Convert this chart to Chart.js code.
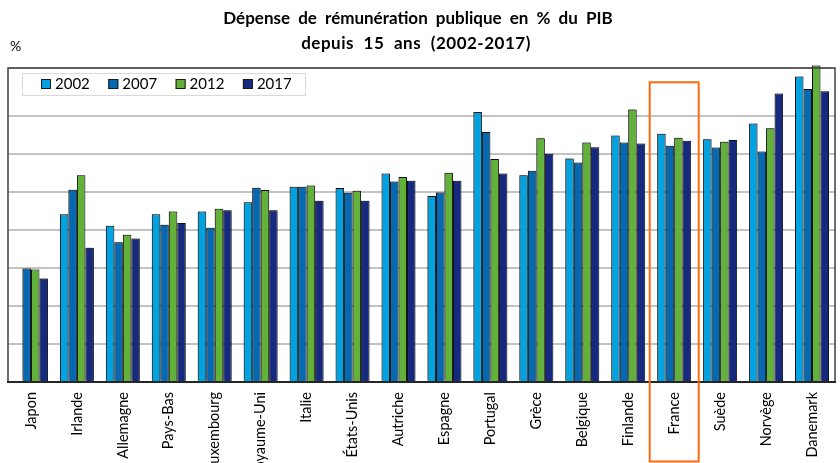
<!DOCTYPE html>
<html>
<head>
<meta charset="utf-8">
<script src="https://cdn.jsdelivr.net/npm/chart.js@4"></script>
<style>
  html, body { margin: 0; padding: 0; background: #fff; }
  #wrap { width: 840px; height: 463px; position: relative; }
</style>
</head>
<body>
<div id="wrap"><canvas id="c" width="840" height="463"></canvas></div>
<script>
const categories = ["Japon","Irlande","Allemagne","Pays-Bas","Luxembourg","Royaume-Uni","Italie","États-Unis","Autriche","Espagne","Portugal","Grèce","Belgique","Finlande","France","Suède","Norvège","Danemark"];
const seriesNames = ["2002","2007","2012","2017"];
const v2002 = [null, 8.82, 8.21, 8.82, 8.96, 9.44, 10.26, 10.19, 10.95, 9.77, 14.19, 10.86, 11.75, 12.95, 13.05, 12.75, 13.58, 16.05];
const v2007 = [5.96, 10.10, 7.35, 8.26, 8.10, 10.21, 10.26, 9.95, 10.53, 9.96, 13.14, 11.10, 11.53, 12.58, 12.42, 12.32, 12.11, 15.39];
const v2012 = [5.91, 10.86, 7.74, 8.96, 9.10, 10.09, 10.33, 10.05, 10.77, 11.00, 11.72, 12.81, 12.58, 14.32, 12.84, 12.63, 13.33, 16.63];
const v2017 = [5.44, 7.05, 7.54, 8.35, 9.02, 9.02, 9.53, 9.53, 10.58, 10.58, 10.95, 12.00, 12.33, 12.53, 12.68, 12.72, 15.16, 15.28];
const titleLines = ["Dépense de rémunération publique en % du PIB", "depuis 15 ans (2002-2017)"];
const unitLabel = "%";
const highlighted = "France";

const colors = ["#00A2E1", "#0569B2", "#62B13B", "#15297F"];
const seriesValues = [v2002, v2007, v2012, v2017];

const FONT = "Lato, 'Open Sans', sans-serif";

const decorPlugin = {
  id: 'decor',
  beforeDatasetsDraw(chart) {
    const ctx = chart.ctx;
    ctx.save();
    ctx.shadowColor = 'rgba(0,0,0,0.35)';
    ctx.shadowOffsetX = -1;
    ctx.shadowOffsetY = -1;
    ctx.shadowBlur = 1.5;
  },
  afterDatasetsDraw(chart) {
    chart.ctx.restore();
  },
  afterDraw(chart) {
    const ctx = chart.ctx;
    const a = chart.chartArea;
    ctx.save();
    // frame
    ctx.strokeStyle = '#404040';
    ctx.lineWidth = 1.5;
    ctx.beginPath();
    ctx.moveTo(a.left, a.bottom);
    ctx.lineTo(a.left, a.top);
    ctx.lineTo(a.right, a.top);
    ctx.lineTo(a.right, a.bottom);
    ctx.stroke();
    ctx.strokeStyle = '#262626';
    ctx.lineWidth = 2;
    ctx.beginPath();
    ctx.moveTo(a.left - 1, a.bottom);
    ctx.lineTo(a.right + 1, a.bottom);
    ctx.stroke();

    // title
    ctx.fillStyle = '#000';
    ctx.textAlign = 'center';
    ctx.textBaseline = 'middle';
    ctx.font = "bold 17px " + FONT;
    ctx.wordSpacing = '4px';
    ctx.fillText(titleLines[0], 418, 19);
    ctx.wordSpacing = '5px';
    ctx.letterSpacing = '0.5px';
    ctx.fillText(titleLines[1], 416, 44);
    ctx.wordSpacing = '0px';
    ctx.letterSpacing = '0px';
    // unit
    ctx.font = "14px " + FONT;
    ctx.textAlign = 'left';
    ctx.fillText(unitLabel, 10, 46);

    // legend box
    const lx = 22, ly = 73, lw = 283, lh = 22;
    ctx.fillStyle = '#fff';
    ctx.fillRect(lx, ly, lw, lh);
    ctx.strokeStyle = '#D9D9D9';
    ctx.lineWidth = 1;
    ctx.strokeRect(lx + 0.5, ly + 0.5, lw, lh);
    ctx.font = "15px " + FONT;
    ctx.textBaseline = 'middle';
    chart.data.datasets.forEach((ds, i) => {
      const sx = 41 + i * 67.3;
      ctx.fillStyle = ds.backgroundColor;
      ctx.fillRect(sx, 79, 10, 10);
      ctx.strokeStyle = '#1a1a1a';
      ctx.lineWidth = 1;
      ctx.strokeRect(sx + 0.5, 79.5, 9, 9);
      ctx.fillStyle = '#000';
      ctx.fillText(ds.label, sx + 14, 84.5);
    });

    // highlight box
    const xs = chart.scales.x;
    const idx = chart.data.labels.indexOf(highlighted);
    const cx = xs.getPixelForValue(idx);
    const ys = chart.scales.y;
    const topY = ys.getPixelForValue(15.75);
    ctx.strokeStyle = '#FF6A10';
    ctx.lineWidth = 2;
    ctx.strokeRect(cx - 24.5, topY, 49, chart.height - 1.5 - topY);
    ctx.restore();
  }
};

new Chart(document.getElementById('c'), {
  type: 'bar',
  data: {
    labels: categories,
    datasets: seriesNames.map((name, i) => ({
      label: name,
      data: seriesValues[i],
      backgroundColor: colors[i],
      borderColor: '#111',
      borderWidth: 1,
      categoryPercentage: 0.74,
      barPercentage: 1.0,
      clip: false
    }))
  },
  options: {
    responsive: false,
    animation: false,
    devicePixelRatio: 1,
    layout: { padding: { left: 8, right: 5, top: 68, bottom: 0 } },
    plugins: {
      legend: { display: false },
      title: { display: false },
      tooltip: { enabled: false }
    },
    scales: {
      x: {
        grid: { display: false, drawTicks: false },
        border: { display: false },
        ticks: {
          autoSkip: false,
          minRotation: 90,
          maxRotation: 90,
          padding: 10,
          color: '#000',
          font: { family: FONT, size: 14.5 }
        },
        afterFit(s) { s.height = 81; }
      },
      y: {
        min: 0,
        max: 16.5,
        grid: { color: '#C3C3C3', lineWidth: 2, drawTicks: false },
        border: { display: false },
        ticks: { display: false, stepSize: 2 },
        afterFit(s) { s.width = 0; }
      }
    }
  },
  plugins: [decorPlugin]
});
</script>
</body>
</html>
